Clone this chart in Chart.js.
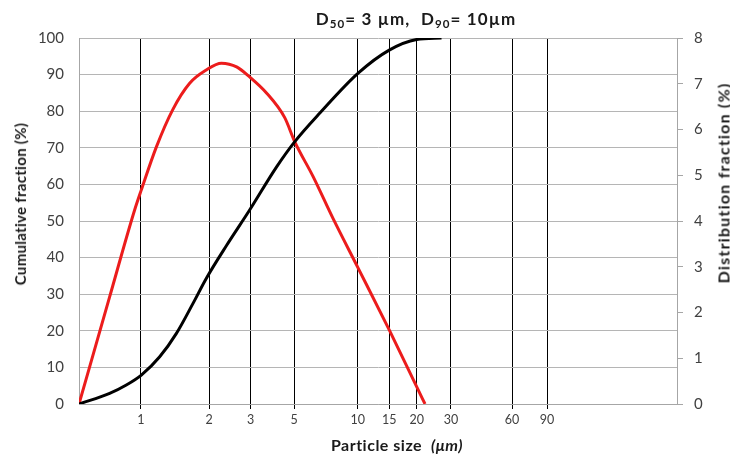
<!DOCTYPE html>
<html>
<head>
<meta charset="utf-8">
<script src="https://cdn.jsdelivr.net/npm/chart.js@4.4.1/dist/chart.umd.min.js"></script>
<style>
  body { margin: 0; background: #fff; }
  #wrap { position: relative; width: 730px; height: 455px; font-family: Lato, "Open Sans", sans-serif; color: #1a1a1a; }
  .ttl { position: absolute; white-space: nowrap; font-weight: bold; transform: translate(-50%, -50%); }
  .rot { transform: translate(-50%, -50%) rotate(-90deg); }
  sub { font-size: 0.68em; vertical-align: -0.3em; line-height: 0; }
</style>
</head>
<body>
<div id="wrap">
  <canvas id="psd" width="730" height="455"></canvas>
  <div class="ttl" style="left:416px; top:18px; font-size:17px; letter-spacing:1.1px;">D<sub>50</sub>= 3 µm,&nbsp; D<sub>90</sub>= 10µm</div>
  <div class="ttl" style="left:397px; top:444px; font-size:16px; letter-spacing:0.5px;">Particle size&nbsp; <i>(μm)</i></div>
  <div class="ttl rot" style="left:20px; top:204px; font-size:15px; letter-spacing:0.3px;">Cumulative fraction (%)</div>
  <div class="ttl rot" style="left:723px; top:183px; font-size:16px; letter-spacing:1.2px;">Distribution fraction (%)</div>
</div>
<script>
// cumulative curve (left axis, %)
const cumSizes = [0.518, 0.717, 0.856, 1.004, 1.22, 1.457, 1.738, 2.0, 2.48, 3.17, 4.22, 5.12, 6.68, 10.03, 13.95, 18.66, 24.3];
const cumValues = [0, 2.9, 5.2, 7.9, 12.9, 19.3, 27.5, 34.3, 43.3, 53.0, 64.8, 71.7, 79.5, 90.4, 96.7, 99.6, 100];

// distribution curve (right axis, %)
const distSizes = [0.518, 0.717, 0.935, 1.004, 1.178, 1.4, 1.677, 2.0, 2.35, 2.76, 3.17, 3.79, 4.6, 5.12, 6.22, 7.69, 10.03, 13.95, 18.66, 20.4];
const distValues = [0, 2.34, 4.24, 4.68, 5.62, 6.43, 7.01, 7.3, 7.45, 7.37, 7.15, 6.8, 6.26, 5.73, 4.97, 4.05, 2.97, 1.62, 0.38, 0];

// vertical gridlines sit where the reference draws them
const tickPositions = [1, 2.06, 3.2, 5.08, 10, 13.95, 18.66, 26.87, 51.4, 74.5];
const tickLabels = ["1", "2", "3", "5", "10", "15", "20", "30", "60", "90"];

const toPoints = (xs, ys) => xs.map((x, i) => ({ x: x, y: ys[i] }));

const ctx = document.getElementById("psd").getContext("2d");
new Chart(ctx, {
  type: "line",
  data: {
    datasets: [
      {
        label: "Cumulative fraction",
        data: toPoints(cumSizes, cumValues),
        borderColor: "#000",
        borderWidth: 3,
        pointRadius: 0,
        cubicInterpolationMode: "monotone",
        yAxisID: "y",
      },
      {
        label: "Distribution fraction",
        data: toPoints(distSizes, distValues),
        borderColor: "#ec1c1c",
        borderWidth: 3,
        pointRadius: 0,
        cubicInterpolationMode: "monotone",
        yAxisID: "y2",
      },
    ],
  },
  options: {
    responsive: false,
    animation: false,
    layout: { padding: { top: 38, left: 0, right: 0, bottom: 0 } },
    plugins: { legend: { display: false }, tooltip: { enabled: false } },
    scales: {
      x: {
        type: "logarithmic",
        min: 0.518,
        max: 296,
        afterBuildTicks: (scale) => {
          scale.ticks = tickPositions.map((v) => ({ value: v }));
        },
        afterFit: (scale) => {
          scale.height = 51;
        },
        ticks: {
          autoSkip: false,
          maxRotation: 0,
          padding: 3,
          color: "#404040",
          font: { family: "Lato", size: 12.5 },
          callback: (value, index) => tickLabels[index],
        },
        grid: { color: "#000", lineWidth: 1, tickLength: 5 },
        border: { color: "#a6a6a6" },
      },
      y: {
        position: "left",
        min: 0,
        max: 100,
        afterFit: (scale) => {
          scale.width = 79;
        },
        ticks: {
          stepSize: 10,
          padding: 15,
          color: "#404040",
          font: { family: "Lato", size: 15 },
        },
        grid: { color: "#b5b5b5", drawTicks: false },
        border: { color: "#a6a6a6" },
      },
      y2: {
        position: "right",
        min: 0,
        max: 8,
        afterFit: (scale) => {
          scale.width = 53;
        },
        ticks: {
          stepSize: 1,
          padding: 11,
          color: "#404040",
          font: { family: "Lato", size: 15 },
        },
        grid: { drawOnChartArea: false, color: "#a6a6a6", tickLength: 6 },
        border: { color: "#a6a6a6" },
      },
    },
  },
});
</script>
</body>
</html>
